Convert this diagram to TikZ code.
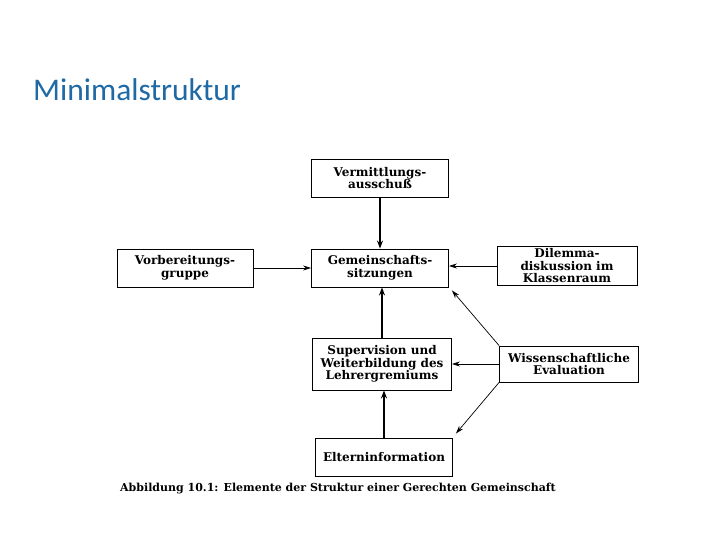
\documentclass[tikz,border=0pt]{standalone}
\usepackage{fontspec}
\usepackage{tikz}
\usetikzlibrary{arrows.meta}
\setmainfont{DejaVu Serif}
\newfontfamily\titlefont{Carlito}
\definecolor{titleblue}{RGB}{31,105,165}
\begin{document}
\begin{tikzpicture}[x=1pt, y=-1pt, box/.style = {shape=rectangle, draw, line width=0.9pt, align=center, fill=white, minimum width=137pt, minimum height=38pt, font=\fontsize{12}{12.5}\selectfont\bfseries, inner sep=2pt}, link/.style = {-{Stealth[length=8pt, width=6pt]}, line width=1.2pt}, thin link/.style = {-{Stealth[length=8pt, width=5pt]}, line width=0.7pt}]
	\useasboundingbox[fill=white] (0,0) rectangle (720,540);
	\node[anchor=base west, text=titleblue, font=\titlefont\fontsize{31.5}{36}\selectfont, inner sep=0pt] (title) at (33,101) {Minimalstruktur};
	\node[box] (ausschuss) at (380,178) {Vermittlungs-\\ausschuß};
	\node[box] (sitzungen) at (380,268) {Gemeinschafts-\\sitzungen};
	\node[box, minimum width=136pt] (gruppe) at (185,268) {Vorbereitungs-\\gruppe};
	\node[box, minimum width=140pt] (dilemma) at (567,266) {Dilemma-\\diskussion im\\Klassenraum};
	\node[box, minimum height=52pt, minimum width=139pt] (supervision) at (382,364) {Supervision und\\Weiterbildung des\\Lehrergremiums};
	\node[box, minimum width=139pt, minimum height=36pt] (evaluation) at (569,364) {Wissenschaftliche\\Evaluation};
	\node[box] (eltern) at (384,457) {Elterninformation};
	\node[anchor=base west, font=\fontsize{11}{12}\selectfont\bfseries, inner sep=0pt] (caption) at (120,491) {Abbildung 10.1: Elemente der Struktur einer Gerechten Gemeinschaft};
	% connectors
	\draw[link] (ausschuss) -- (sitzungen);
	\draw[thin link] (gruppe.east) -- (gruppe.east -| sitzungen.west);
	\draw[thin link] (dilemma.west) -- (dilemma.west -| sitzungen.east);
	\draw[link] (supervision.north) -- (supervision.north |- sitzungen.south);
	\draw[link] (eltern.north) -- (eltern.north |- supervision.south);
	\draw[thin link] (evaluation) -- (supervision);
	\draw[thin link] (evaluation.north west) -- ([shift={(3,3)}]sitzungen.south east);
	\draw[thin link] (evaluation.south west) -- ([shift={(3,-4)}]eltern.north east);
\end{tikzpicture}
\end{document}
